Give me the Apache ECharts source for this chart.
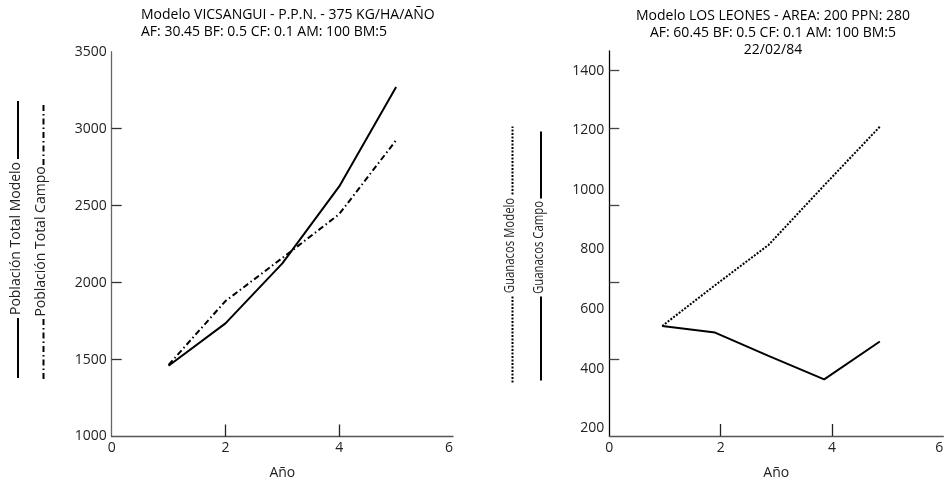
<!DOCTYPE html>
<html>
<head>
<meta charset="utf-8">
<script src="https://cdn.jsdelivr.net/npm/echarts@6/dist/echarts.min.js"></script>
<style>html,body{margin:0;padding:0;background:#fff}#c{width:946px;height:479px}</style>
</head>
<body>
<div id="c"></div>
<script>
// ---- data ----
const leftYears = [1, 2, 3, 4, 5];
const poblacionTotalModelo = [1460, 1735, 2125, 2625, 3270];
const poblacionTotalCampo = [1465, 1880, 2160, 2445, 2925];
const rightYears = [0.95, 1.9, 2.86, 3.86, 4.86];
const guanacosModelo = [543, 680, 815, 1015, 1212];
const guanacosCampo = [543, 521, 443, 364, 491];
const xTickLabels = [0, 2, 4, 6];
const leftYTickLabels = [1000, 1500, 2000, 2500, 3000, 3500];
const rightYTickLabels = [200, 400, 600, 800, 1000, 1200, 1400];
const leftTitle = 'Modelo VICSANGUI - P.P.N. - 375 KG/HA/AÑO\nAF: 30.45 BF: 0.5 CF: 0.1 AM: 100 BM:5';
const rightTitle = 'Modelo LOS LEONES - AREA: 200 PPN: 280\nAF: 60.45 BF: 0.5 CF: 0.1 AM: 100 BM:5\n22/02/84';
const xName = 'Año';

const FONT = 'Open Sans';
const DASHDOT = [6, 3, 1.5, 3];
const DOTTED = [2, 1.5];
const plain = v => String(Math.round(v));

function pairs(xs, ys) { return xs.map((x, i) => [x, ys[i]]); }

function xAxisCfg(grid, edgeColor) {
  return {
    gridIndex: grid, type: 'value', min: 0, max: 6, interval: 2,
    name: xName, nameLocation: 'middle', nameGap: 30,
    nameTextStyle: { fontFamily: FONT, fontSize: 14, color: '#222' },
    axisLine: { onZero: false, lineStyle: { color: edgeColor, width: 1.3 } },
    axisTick: { inside: true, length: 12, customValues: [2, 4], lineStyle: { color: '#222', width: 1.3 } },
    axisLabel: { customValues: xTickLabels, formatter: plain, margin: 5, fontFamily: FONT, fontSize: 14, color: '#222', alignMaxLabel: 'right' },
    splitLine: { show: false }
  };
}

function legendItem(x, yc, label, squeeze, halfText, topLen, botLen, dash) {
  const ls = { stroke: '#000', lineWidth: 2, lineDash: dash || null };
  return {
    type: 'group', x: x, y: yc, rotation: Math.PI / 2,
    children: [
      { type: 'line', shape: { x1: -halfText - 3 - botLen, y1: 2, x2: -halfText - 3, y2: 2 }, style: ls },
      { type: 'text', x: 0, y: 0, scaleX: squeeze,
        style: { text: label, align: 'center', verticalAlign: 'middle', font: '14px ' + FONT, fill: '#222' } },
      { type: 'line', shape: { x1: halfText + 3, y1: 2, x2: halfText + 3 + topLen, y2: 2 }, style: ls }
    ]
  };
}

const chart = echarts.init(document.getElementById('c'));
chart.setOption({
  animation: false,
  backgroundColor: '#fff',
  title: [
    { text: leftTitle, left: 141, top: 7, padding: 0, textAlign: 'left',
      textStyle: { fontFamily: FONT, fontSize: 14, fontWeight: 'normal', color: '#000', lineHeight: 17 } },
    { text: rightTitle, left: 773, top: 8, padding: 0, textAlign: 'center',
      textStyle: { fontFamily: FONT, fontSize: 14, fontWeight: 'normal', color: '#000', lineHeight: 17, align: 'center' } }
  ],
  grid: [
    { left: 111.7, right: 946 - 453, top: 51.7, bottom: 479 - 436.5, containLabel: false, outerBoundsMode: 'none' },
    { left: 609.3, right: 946 - 943.3, top: 51, bottom: 479 - 436, containLabel: false, outerBoundsMode: 'none' }
  ],
  xAxis: [xAxisCfg(0, '#555'), xAxisCfg(1, '#555')],
  yAxis: [
    { gridIndex: 0, type: 'value', min: 1000, max: 3500, interval: 500,
      axisLine: { onZero: false, show: true, lineStyle: { color: '#666', width: 1.3 } },
      axisTick: { show: true, inside: true, length: 10, customValues: [1500, 2000, 2500, 3000], lineStyle: { color: '#333', width: 1.3 } },
      axisLabel: { customValues: leftYTickLabels, formatter: plain, margin: 5, fontFamily: FONT, fontSize: 14, color: '#222' },
      splitLine: { show: false } },
    { gridIndex: 1, type: 'value', min: 174, max: 1466, position: 'left',
      axisLine: { onZero: false, show: true, lineStyle: { color: '#000', width: 1.3 } },
      axisTick: { show: true, inside: true, length: 10, customValues: [1400], lineStyle: { color: '#444', width: 1.3 } },
      axisLabel: { customValues: rightYTickLabels, formatter: plain, margin: 5, fontFamily: FONT, fontSize: 14, color: '#222' },
      splitLine: { show: false } },
    { gridIndex: 1, type: 'value', min: 0, max: 5, interval: 1, position: 'left',
      axisLine: { show: false, onZero: false },
      axisTick: { show: true, inside: true, length: 10, customValues: [1, 2, 3, 4], lineStyle: { color: '#444', width: 1.3 } },
      axisLabel: { show: false },
      splitLine: { show: false } }
  ],
  series: [
    { name: 'Población Total Modelo', type: 'line', xAxisIndex: 0, yAxisIndex: 0, symbol: 'none',
      data: pairs(leftYears, poblacionTotalModelo), lineStyle: { color: '#000', width: 2 } },
    { name: 'Población Total Campo', type: 'line', xAxisIndex: 0, yAxisIndex: 0, symbol: 'none',
      data: pairs(leftYears, poblacionTotalCampo), lineStyle: { color: '#000', width: 2, type: DASHDOT } },
    { name: 'Guanacos Modelo', type: 'line', xAxisIndex: 1, yAxisIndex: 1, symbol: 'none',
      data: pairs(rightYears, guanacosModelo), lineStyle: { color: '#000', width: 2, type: DOTTED } },
    { name: 'Guanacos Campo', type: 'line', xAxisIndex: 1, yAxisIndex: 1, symbol: 'none',
      data: pairs(rightYears, guanacosCampo), lineStyle: { color: '#000', width: 2 } }
  ],
  graphic: [
    legendItem(16, 238.5, 'Población Total Modelo', 1, 76.5, 58, 60, null),
    legendItem(41.5, 241.5, 'Población Total Campo', 1, 73.5, 61, 61, DASHDOT),
    legendItem(510.5, 245.5, 'Guanacos Modelo', 0.81, 48, 68, 86, DOTTED),
    legendItem(539, 247.5, 'Guanacos Campo', 0.81, 46, 67, 84, null)
  ]
});
</script>
</body>
</html>
